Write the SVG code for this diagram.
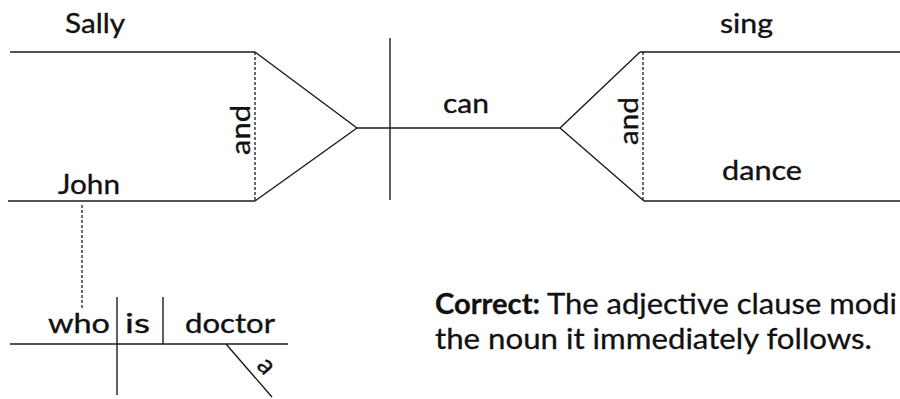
<svg xmlns="http://www.w3.org/2000/svg" width="900" height="399" viewBox="0 0 900 399">
<style>
.ln{stroke:#1a1a1a;stroke-width:1.4;fill:none;stroke-linecap:butt}
.ds{stroke:#1a1a1a;stroke-width:1.3;fill:none;stroke-dasharray:3 2}
.t{font-family:Lato,"Liberation Sans",sans-serif;font-size:27px;fill:#111;stroke:#111;stroke-width:0.35}
.p{font-family:Lato,"Liberation Sans",sans-serif;font-size:29px;fill:#111;stroke:#111;stroke-width:0.3}
</style>
<rect width="900" height="399" fill="#fff"/>
<g id="connectors">
<line class="ln" x1="10" y1="52" x2="255" y2="52"/>
<line class="ln" x1="8" y1="201" x2="255" y2="201"/>
<line class="ds" x1="255" y1="52" x2="255" y2="201"/>
<line class="ln" x1="255" y1="52" x2="357" y2="128"/>
<line class="ln" x1="357" y1="128" x2="255" y2="201"/>
<line class="ln" x1="357" y1="128" x2="560" y2="128"/>
<line class="ln" x1="390" y1="38" x2="390" y2="200"/>
<line class="ln" x1="560" y1="128" x2="640" y2="52"/>
<line class="ln" x1="560" y1="128" x2="644" y2="201"/>
<line class="ds" x1="643" y1="52" x2="643" y2="201"/>
<line class="ln" x1="640" y1="52" x2="900" y2="52"/>
<line class="ln" x1="644" y1="201" x2="900" y2="201"/>
<line class="ds" x1="82" y1="205" x2="82" y2="308"/>
<line class="ln" x1="10" y1="344" x2="288" y2="344"/>
<line class="ln" x1="117" y1="297" x2="117" y2="395"/>
<line class="ln" x1="163" y1="297" x2="163" y2="344"/>
<line class="ln" x1="226" y1="344" x2="272" y2="397"/>
</g>
<g id="sally"><text class="t" x="65" y="33" textLength="60" lengthAdjust="spacingAndGlyphs">Sally</text></g>
<g id="john"><text class="t" x="58" y="194" textLength="62" lengthAdjust="spacingAndGlyphs">John</text></g>
<g id="and1"><text class="t" transform="translate(250,130) rotate(-90)" x="-25" textLength="50" lengthAdjust="spacingAndGlyphs">and</text></g>
<g id="can"><text class="t" x="443" y="113" textLength="46" lengthAdjust="spacingAndGlyphs">can</text></g>
<g id="and2"><text class="t" transform="translate(638,121) rotate(-90)" x="-24" textLength="48" lengthAdjust="spacingAndGlyphs">and</text></g>
<g id="sing"><text class="t" x="720" y="33" textLength="53" lengthAdjust="spacingAndGlyphs">sing</text></g>
<g id="dance"><text class="t" x="722" y="180" textLength="80" lengthAdjust="spacingAndGlyphs">dance</text></g>
<g id="who"><text class="t" x="48" y="333" textLength="62" lengthAdjust="spacingAndGlyphs">who</text></g>
<g id="is"><text class="t" x="125" y="333" textLength="25" lengthAdjust="spacingAndGlyphs">is</text></g>
<g id="doctor"><text class="t" x="185" y="333" textLength="90" lengthAdjust="spacingAndGlyphs">doctor</text></g>
<g id="a"><text class="t" transform="translate(226,344) rotate(49)" x="43" y="-8" text-anchor="middle" font-size="29">a</text></g>
<g id="note">
<text class="p" x="435" y="314"><tspan font-weight="bold" textLength="105" lengthAdjust="spacingAndGlyphs">Correct:</tspan><tspan x="547" textLength="350" lengthAdjust="spacingAndGlyphs">The adjective clause modi</tspan></text>
<text class="p" x="435" y="349" textLength="437" lengthAdjust="spacingAndGlyphs">the noun it immediately follows.</text>
</g>
</svg>
